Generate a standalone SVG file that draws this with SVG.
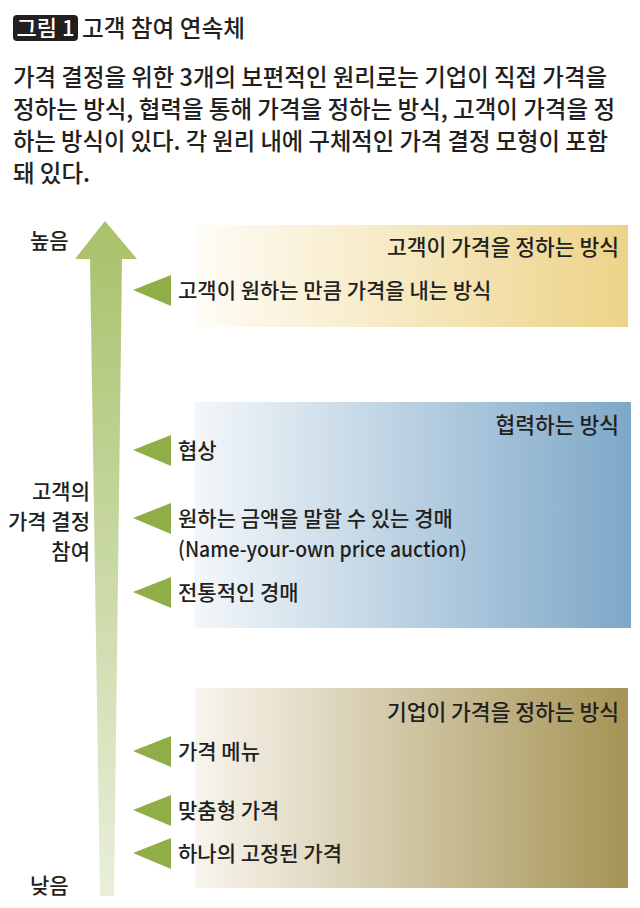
<svg xmlns="http://www.w3.org/2000/svg" width="640" height="908" viewBox="0 0 640 908">
<style>
text{font-family:"Noto Sans CJK KR","Noto Sans",sans-serif;fill:#231f20;font-weight:500}
.p{font-size:24px}
.it{font-size:21px}
.bt{font-size:21.5px;text-anchor:end}
.lb{font-size:21px}
.tri{fill:#8fae48}
</style>
<defs>
<linearGradient id="gy" x1="0" y1="0" x2="1" y2="0"><stop offset="0" stop-color="#fefcf6"/><stop offset="1" stop-color="#edd388"/></linearGradient>
<linearGradient id="gb" x1="0" y1="0" x2="1" y2="0"><stop offset="0" stop-color="#f3f7fa"/><stop offset="1" stop-color="#7ea8c8"/></linearGradient>
<linearGradient id="gr" x1="0" y1="0" x2="1" y2="0"><stop offset="0" stop-color="#f8f5ee"/><stop offset="1" stop-color="#a69455"/></linearGradient>
<linearGradient id="ga" x1="0" y1="0" x2="0" y2="1"><stop offset="0" stop-color="#a8c16a"/><stop offset="1" stop-color="#e9efdb"/></linearGradient>
</defs>
<g id="title">
<rect x="13" y="15" width="65" height="26" rx="4" fill="#231f20"/>
<text x="45.5" y="36" font-size="22" font-weight="bold" text-anchor="middle" style="fill:#fff" textLength="58" lengthAdjust="spacingAndGlyphs">그림 1</text>
<text x="82" y="37" font-size="24" textLength="163" lengthAdjust="spacingAndGlyphs">고객 참여 연속체</text>
</g>
<g id="paragraph">
<text x="13" y="86" class="p" textLength="594" lengthAdjust="spacingAndGlyphs">가격 결정을 위한 3개의 보편적인 원리로는 기업이 직접 가격을</text>
<text x="13" y="118" class="p" textLength="602" lengthAdjust="spacingAndGlyphs">정하는 방식, 협력을 통해 가격을 정하는 방식, 고객이 가격을 정</text>
<text x="13" y="150" class="p" textLength="595" lengthAdjust="spacingAndGlyphs">하는 방식이 있다. 각 원리 내에 구체적인 가격 결정 모형이 포함</text>
<text x="13" y="182" class="p" textLength="77" lengthAdjust="spacingAndGlyphs">돼 있다.</text>
</g>
<g id="box-customer">
<rect x="195" y="225" width="433" height="102" fill="url(#gy)"/>
<text x="619" y="255" class="bt">고객이 가격을 정하는 방식</text>
</g>
<g id="box-cooperate">
<rect x="195" y="402" width="436" height="226" fill="url(#gb)"/>
<text x="619" y="433" class="bt">협력하는 방식</text>
</g>
<g id="box-company">
<rect x="195" y="688" width="433" height="200" fill="url(#gr)"/>
<text x="619" y="720" class="bt">기업이 가격을 정하는 방식</text>
</g>
<g id="axis">
<polygon points="105,221 137,259 122,259 114,896 100,896 90,259 75,259" fill="url(#ga)"/>
<text x="30" y="248" class="lb">높음</text>
<text x="30" y="893" class="lb">낮음</text>
<text x="90" y="499" class="lb" text-anchor="end">고객의</text>
<text x="90" y="529" class="lb" text-anchor="end">가격 결정</text>
<text x="90" y="559" class="lb" text-anchor="end">참여</text>
</g>
<g id="item-pay">
<polygon class="tri" points="133,290 171,275 171,306"/>
<text x="178" y="298" class="it">고객이 원하는 만큼 가격을 내는 방식</text>
</g>
<g id="item-negotiate">
<polygon class="tri" points="133,450 171,435 171,466"/>
<text x="178" y="458" class="it">협상</text>
</g>
<g id="item-nyop">
<polygon class="tri" points="133,518 171,503 171,534"/>
<text x="178" y="526" class="it">원하는 금액을 말할 수 있는 경매</text>
<text x="178" y="557" class="it" textLength="289" lengthAdjust="spacingAndGlyphs">(Name-your-own price auction)</text>
</g>
<g id="item-auction">
<polygon class="tri" points="133,592 171,577 171,608"/>
<text x="178" y="600" class="it">전통적인 경매</text>
</g>
<g id="item-menu">
<polygon class="tri" points="133,751 171,736 171,767"/>
<text x="178" y="759" class="it">가격 메뉴</text>
</g>
<g id="item-custom">
<polygon class="tri" points="133,810 171,795 171,826"/>
<text x="178" y="818" class="it">맞춤형 가격</text>
</g>
<g id="item-fixed">
<polygon class="tri" points="133,853 171,838 171,869"/>
<text x="178" y="861" class="it">하나의 고정된 가격</text>
</g>
<g id="connectors"/>
</svg>
